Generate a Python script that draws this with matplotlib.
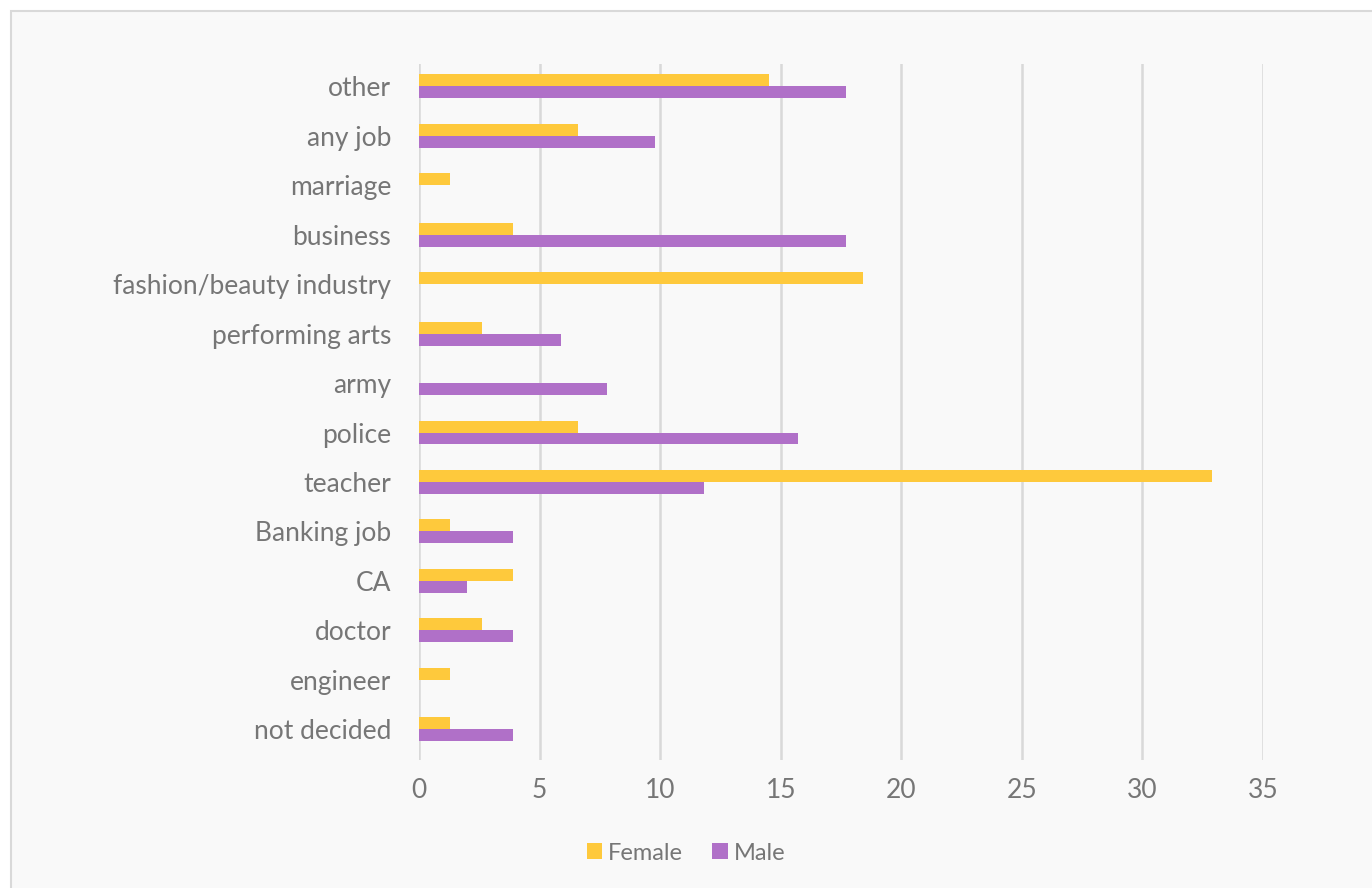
import numpy as np
import matplotlib
matplotlib.use('Agg')
import matplotlib.pyplot as plt
from matplotlib.patches import Rectangle

# Career choice by gender (% of respondents)
careers = ['other', 'any job', 'marriage', 'business', 'fashion/beauty industry',
           'performing arts', 'army', 'police', 'teacher', 'Banking job',
           'CA', 'doctor', 'engineer', 'not decided']
female = [14.5, 6.6, 1.3, 3.9, 18.4, 2.6, 0.0, 6.6, 32.9, 1.3, 3.9, 2.6, 1.3, 1.3]
male = [17.7, 9.8, 0.0, 17.7, 0.0, 5.9, 7.8, 15.7, 11.8, 3.9, 2.0, 3.9, 0.0, 3.9]
x_ticks = [0, 5, 10, 15, 20, 25, 30, 35]

text_col = '#767676'
grid_col = '#D9D9D9'
female_col = '#FEC93C'
male_col = '#B070C8'

plt.rcParams['font.family'] = ['Lato', 'DejaVu Sans']

fig = plt.figure(figsize=(13.72, 8.88), dpi=100)
fig.patch.set_facecolor('white')
# chart frame
fig.patches.append(Rectangle((11 / 1372, -0.01), 1.0, 1 - 11 / 888 + 0.01,
                             transform=fig.transFigure, facecolor='#F9F9F9',
                             edgecolor=grid_col, linewidth=1.5, zorder=-5))

ax = fig.add_axes([419 / 1372, 1 - 760 / 888, (1263 - 419) / 1372, (760 - 64) / 888])
ax.set_facecolor('none')

y = np.arange(len(careers))
h = 0.242
ax.barh(y - h / 2, female, height=h, color=female_col, label='Female', zorder=3)
ax.barh(y + h / 2, male, height=h, color=male_col, label='Male', zorder=3)

ax.set_xlim(0, 35)
ax.set_ylim(13.62, -0.45)
ax.set_xticks(x_ticks)
ax.set_yticks(y)
ax.set_yticklabels(careers)
ax.xaxis.grid(True, color=grid_col, linewidth=1.8, zorder=0)
ax.set_axisbelow(True)
for s in ax.spines.values():
    s.set_visible(False)
ax.tick_params(axis='both', length=0, labelsize=19, colors=text_col)
ax.tick_params(axis='x', pad=13)
ax.tick_params(axis='y', pad=20)
for lab in ax.get_yticklabels():
    lab.set_va('center_baseline')

leg = fig.legend(loc='center', bbox_to_anchor=(686 / 1372, 1 - 853 / 888), ncol=2,
                 frameon=False, fontsize=17, handlelength=0.65, handleheight=0.65,
                 handletextpad=0.25, columnspacing=1.25)
for t in leg.get_texts():
    t.set_color(text_col)

fig.savefig('out.png', dpi=100, facecolor=fig.get_facecolor())
